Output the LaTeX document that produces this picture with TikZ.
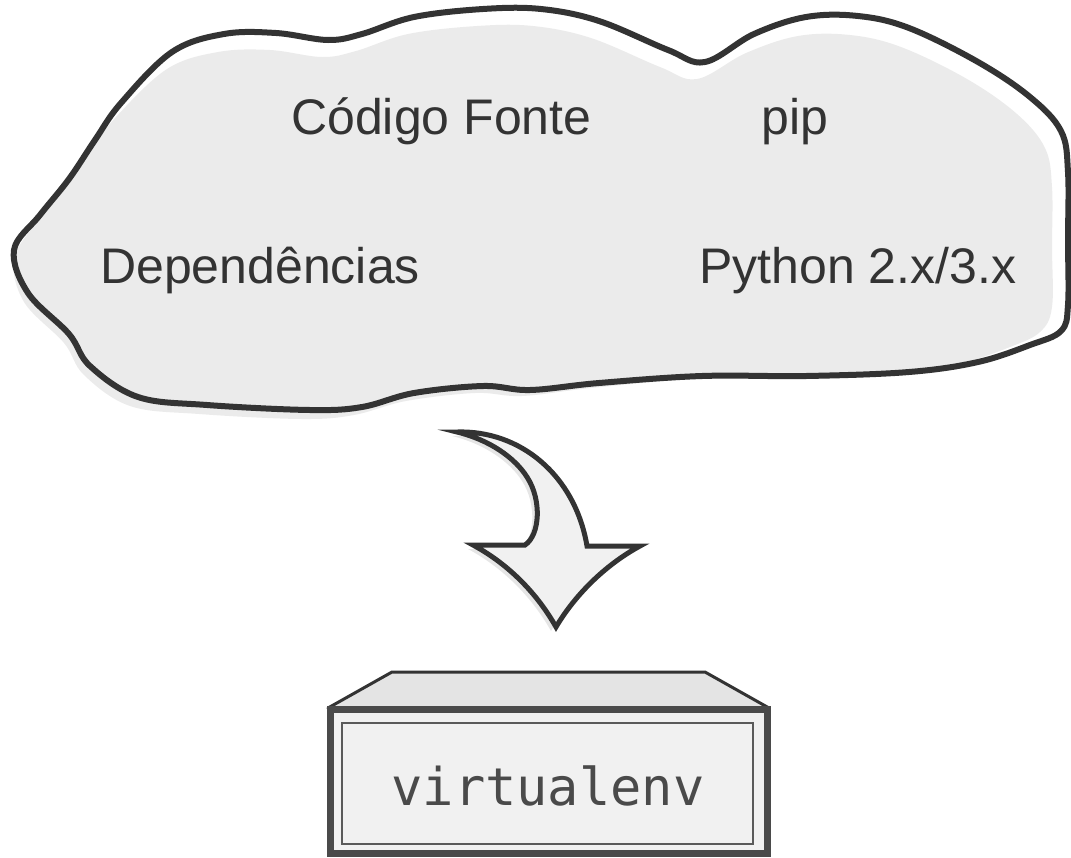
\documentclass[tikz,border=0pt]{standalone}
\usepackage{fontspec}
\setmainfont{Liberation Sans}
\newfontfamily\monofont{DejaVu Sans Mono}
\definecolor{ink}{HTML}{333333}
\definecolor{cloudfill}{HTML}{EBEBEB}
\definecolor{arrowfill}{HTML}{F1F1F1}
\definecolor{arrowshadow}{HTML}{E6E6E6}
\definecolor{boxtop}{HTML}{E4E4E4}
\definecolor{boxfront}{HTML}{F1F1F1}
\definecolor{boxedge}{HTML}{4A4A4A}
\definecolor{innerline}{HTML}{5A5A5A}
\definecolor{monotext}{HTML}{4A4A4A}
\tikzset{
  cloudtext/.style={anchor=base west, inner sep=0pt, text=ink, font=\fontsize{50}{60}\selectfont},
  cloudline/.style={draw=ink, line width=6pt, line join=round},
  arrowline/.style={draw=ink, line width=5pt, line join=miter, fill=arrowfill},
}
\begin{document}
\begin{tikzpicture}[x=1pt,y=-1pt]
\useasboundingbox (0,0) rectangle (1071,857);
\def\cloudpts{(14,250) (40,215) (69,179) (95,140) (121,103) (172,52) (224,34) (276,33) (328,40) (362,34) (414,17) (483,9) (541,9) (599,21) (668,50) (705,62) (754,34) (806,17) (858,16) (909,28) (978,62) (1030,97) (1061,131) (1068,172) (1068,240) (1068,305) (1061,331) (1030,345) (978,362) (909,372) (806,376) (702,376) (599,383) (530,390) (483,386) (414,393) (362,407) (310,410) (207,405) (138,397) (90,366) (69,334) (28,293)}
% cloud shadow fill
\fill[cloudfill, shift={(-8,7)}] plot[smooth cycle, tension=0.6] coordinates {(22,252) (45,215) (72,182) (98,145) (124,110) (175,62) (226,45) (278,43) (330,50) (364,44) (416,27) (485,19) (541,19) (599,31) (668,60) (705,72) (754,46) (806,29) (858,28) (909,40) (975,72) (1025,107) (1053,141) (1060,180) (1060,240) (1060,300) (1048,325) (1018,340) (970,356) (909,366) (806,370) (702,372) (599,381) (530,389) (483,386) (414,394) (362,408) (310,412) (207,407) (138,399) (92,368) (72,336) (32,295)};
% cloud outline
\path[cloudline] plot[smooth cycle, tension=0.6] coordinates {\cloudpts};
% texts
\node[cloudtext] (codigo) at (291,134) {Código Fonte};
\node[cloudtext] (pip) at (761,134) {pip};
\node[cloudtext] (dep) at (100,283) {Dependências};
\node[cloudtext] (python) at (699,283) {Python 2.x/3.x};
% curved arrow shadow
\fill[arrowshadow, shift={(-5,4)}] (457,432) .. controls (520,430) and (575,475) .. (587,546) -- (640,546) .. controls (605,565) and (575,595) .. (556,627) .. controls (538,595) and (510,565) .. (473,545) -- (525,545) .. controls (540,535) and (542,500) .. (527,477) .. controls (515,458) and (490,440) .. (457,432) -- cycle;
% curved arrow
\path[arrowline] (457,432) .. controls (520,430) and (575,475) .. (587,546) -- (640,546) .. controls (605,565) and (575,595) .. (556,627) .. controls (538,595) and (510,565) .. (473,545) -- (525,545) .. controls (540,535) and (542,500) .. (527,477) .. controls (515,458) and (490,440) .. (457,432) -- cycle;
% box top face
\path[draw=ink, line width=3pt, fill=boxtop, line join=round] (392,672) -- (705,672) -- (769,708) -- (328,708) -- cycle;
% box front face
\path[draw=boxedge, line width=7pt, fill=boxfront] (330.5,709.5) rectangle (767.5,853.5);
\path[draw=innerline, line width=2.5pt] (342,723) rectangle (753,844);
\node[anchor=base, inner sep=0pt, text=monotext, font=\monofont\fontsize{52}{60}\selectfont] (venv) at (548,805) {virtualenv};
\end{tikzpicture}
\end{document}
